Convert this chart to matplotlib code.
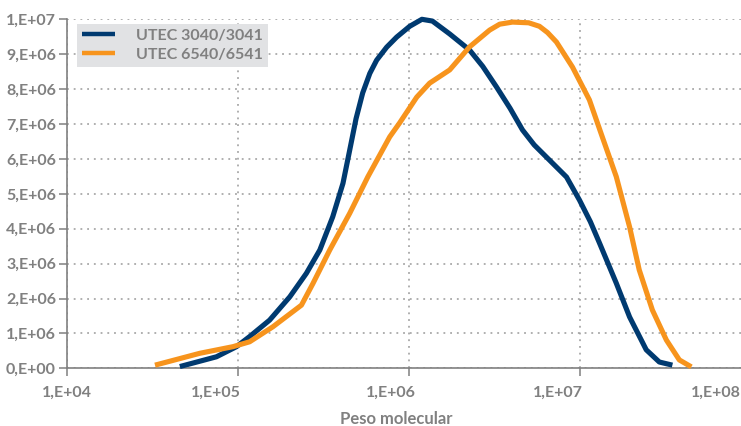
import matplotlib
matplotlib.use("Agg")
import matplotlib.pyplot as plt
import matplotlib.transforms as mtransforms
from matplotlib.ticker import FixedLocator, NullLocator

# ---- data ----
mw_3040 = [45700, 74800, 98000, 117000, 153000, 201000, 251000, 301000, 358000,
           411000, 450000, 490000, 536000, 590000, 647000, 740000, 847000, 1.01e6,
           1.19e6, 1.37e6, 1.73e6, 2.26e6, 2.70e6, 3.25e6, 3.90e6, 4.61e6, 5.40e6,
           6.37e6, 8.34e6, 9.93e6, 1.15e7, 1.30e7, 1.63e7, 1.95e7, 2.44e7, 2.91e7,
           3.47e7]
val_3040 = [0.05e6, 0.33e6, 0.62e6, 0.91e6, 1.38e6, 2.05e6, 2.72e6, 3.39e6, 4.34e6,
            5.30e6, 6.25e6, 7.15e6, 7.89e6, 8.45e6, 8.83e6, 9.20e6, 9.49e6, 9.80e6,
            10.0e6, 9.95e6, 9.58e6, 9.12e6, 8.65e6, 8.06e6, 7.45e6, 6.83e6, 6.40e6,
            6.05e6, 5.48e6, 4.82e6, 4.20e6, 3.59e6, 2.44e6, 1.47e6, 0.53e6, 0.18e6,
            0.09e6]

mw_6540 = [32700, 59800, 93500, 117000, 160000, 235000, 275000, 344000, 450000,
           575000, 771000, 881000, 1.11e6, 1.32e6, 1.73e6, 2.26e6, 2.96e6, 3.39e6,
           4.03e6, 5.01e6, 5.79e6, 6.46e6, 7.28e6, 9.04e6, 1.135e7, 1.35e7, 1.63e7,
           1.95e7, 2.22e7, 2.65e7, 3.20e7, 3.81e7, 4.48e7]
val_6540 = [0.09e6, 0.43e6, 0.62e6, 0.76e6, 1.19e6, 1.81e6, 2.44e6, 3.39e6, 4.44e6,
            5.49e6, 6.63e6, 7.03e6, 7.77e6, 8.17e6, 8.55e6, 9.21e6, 9.69e6, 9.86e6,
            9.92e6, 9.90e6, 9.80e6, 9.62e6, 9.35e6, 8.63e6, 7.69e6, 6.63e6, 5.49e6,
            4.05e6, 2.82e6, 1.67e6, 0.81e6, 0.24e6, 0.04e6]

series_names = ["UTEC 3040/3041", "UTEC 6540/6541"]
x_ticks = [1e4, 1e5, 1e6, 1e7, 1e8]
x_tick_labels = ["1,E+04", "1,E+05", "1,E+06", "1,E+07", "1,E+08"]
y_ticks = [i * 1e6 for i in range(11)]
y_tick_labels = ["0,E+00", "1,E+06", "2,E+06", "3,E+06", "4,E+06", "5,E+06",
                 "6,E+06", "7,E+06", "8,E+06", "9,E+06", "1,E+07"]
x_title = "Peso molecular"

# ---- style ----
NAVY = "#003a70"
ORANGE = "#f7941d"
GRAY = "#808080"
GRID = "#9a9a9a"
FONT = "Lato"

W, H, DPI = 741, 426, 100
fig = plt.figure(figsize=(W / DPI, H / DPI), dpi=DPI)
ax = fig.add_axes([67 / W, 1 - 368.3 / H, (751 - 67) / W, (368.3 - 19.3) / H])

ax.set_xscale("log")
ax.set_xlim(1e4, 1e8)
ax.set_ylim(0, 1e7)

ax.plot(mw_3040, val_3040, color=NAVY, lw=3.7, solid_joinstyle="round",
        solid_capstyle="butt", clip_on=False, zorder=3, label=series_names[0])
ax.plot(mw_6540, val_6540, color=ORANGE, lw=3.7, solid_joinstyle="round",
        solid_capstyle="butt", clip_on=False, zorder=3, label=series_names[1])

ax.xaxis.set_major_locator(FixedLocator(x_ticks))
ax.xaxis.set_minor_locator(NullLocator())
ax.set_xticklabels(x_tick_labels)
ax.set_yticks(y_ticks)
ax.set_yticklabels(y_tick_labels)

ax.grid(True, which="major", color=GRID, linestyle=(0, (1.2, 3.2)), linewidth=1.1)
ax.set_axisbelow(True)

for s in ["top", "right"]:
    ax.spines[s].set_visible(False)
for s in ["left", "bottom"]:
    ax.spines[s].set_color(GRAY)
    ax.spines[s].set_linewidth(1.2)

ax.tick_params(axis="y", length=6, width=1.1, color=GRAY, pad=2,
               labelsize=11.5, labelcolor=GRAY)
ax.tick_params(axis="x", length=5.5, width=1.1, color=GRAY, pad=7,
               labelsize=11.5, labelcolor=GRAY)
for lab in ax.get_yticklabels() + ax.get_xticklabels():
    lab.set_fontfamily(FONT)
    lab.set_fontweight("bold")

# x tick labels in the reference sit to the left of their ticks
shifts_px = [0, -22, -18, -22, -35]
for lab, dx in zip(ax.get_xticklabels(), shifts_px):
    lab.set_transform(lab.get_transform() +
                      mtransforms.ScaledTranslation(dx / DPI, 0, fig.dpi_scale_trans))

fig.text(396 / W, 1 - 419 / H, x_title, ha="center", va="center",
         fontsize=12, color=GRAY, fontfamily=FONT, fontweight="bold")

leg = ax.legend(loc="upper left", bbox_to_anchor=(77 / W, 1 - 24 / H),
                bbox_transform=fig.transFigure, frameon=True, fancybox=False,
                facecolor="#e1e2e4", edgecolor="none", framealpha=1,
                borderpad=0.3, labelspacing=0.3, handlelength=2.1,
                handletextpad=1.3, borderaxespad=0,
                prop={"family": FONT, "weight": "bold", "size": 11.5})
leg.get_frame().set_boxstyle("square", pad=0)
for t in leg.get_texts():
    t.set_color(GRAY)
for h in leg.get_lines():
    h.set_linewidth(3.2)

fig.savefig("out.png", dpi=DPI)
